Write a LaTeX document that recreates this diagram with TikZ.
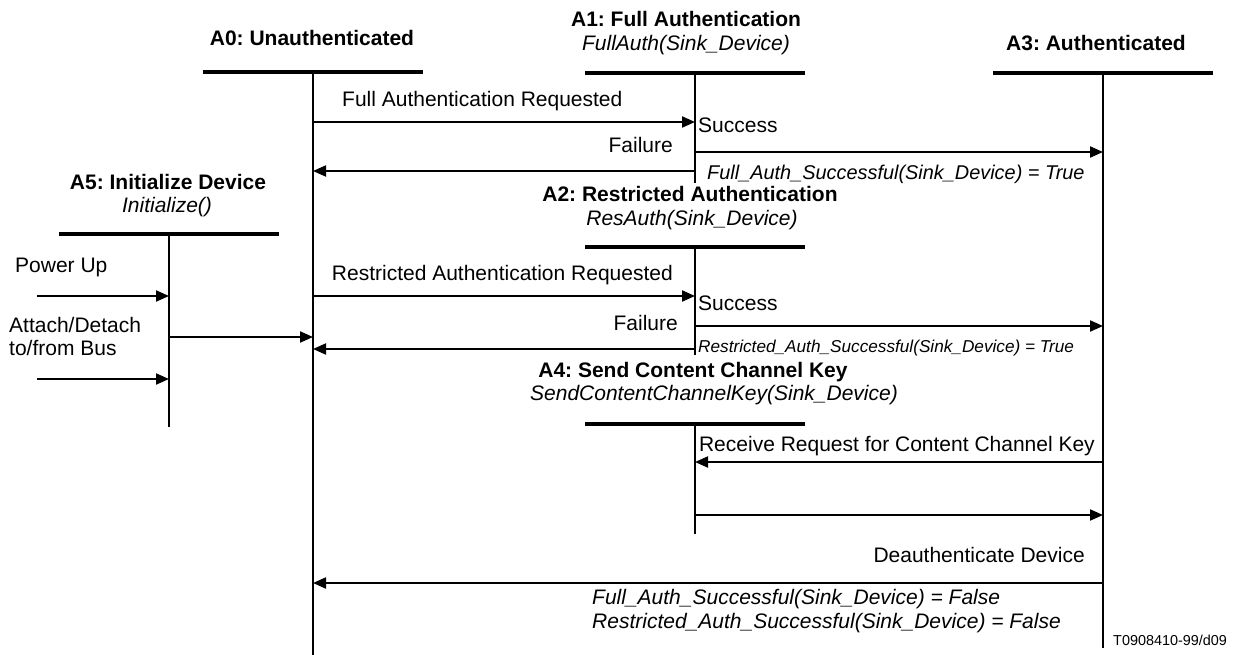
\documentclass[tikz,border=0pt]{standalone}
\usepackage{fontspec}
\setmainfont{Liberation Sans}
\usetikzlibrary{arrows.meta}
\frenchspacing
\tikzset{
  lbl/.style={inner sep=0pt, font=\fontsize{21}{25}\selectfont},
  ttl/.style={inner sep=0pt, anchor=base, font=\fontsize{21}{25}\selectfont\bfseries},
  fn/.style={inner sep=0pt, anchor=base, font=\fontsize{21}{25}\selectfont\itshape},
  cond/.style={inner sep=0pt, font=\fontsize{21}{25}\selectfont\itshape},
  condmid/.style={inner sep=0pt, font=\fontsize{19.9}{24}\selectfont\itshape},
  condsmall/.style={inner sep=0pt, font=\fontsize{17.2}{20}\selectfont\itshape},
  ref/.style={inner sep=0pt, font=\fontsize{14.4}{17}\selectfont},
  statebar/.style={line width=4pt},
  life/.style={line width=2pt},
  msg/.style={line width=2pt, -{Triangle[length=13pt,width=11pt]}},
}
\begin{document}
\begin{tikzpicture}[x=1pt,y=-1pt]
\useasboundingbox (0,0) rectangle (1244,655);

% state heads (top of each lifeline)
\coordinate (a0) at (313,72);
\coordinate (a1) at (695,73);
\coordinate (a3) at (1103,73);
\coordinate (a5) at (169,234);
\coordinate (a2) at (695,247);
\coordinate (a4) at (695,424);

% state titles
\node[ttl] (t0) at (312,46) {A0: Unauthenticated};
\node[ttl] (t1) at (686,26.5) {A1: Full Authentication};
\node[fn]  (f1) at (686,50.5) {FullAuth(Sink\_Device)};
\node[ttl] (t3) at (1096,50.5) {A3: Authenticated};
\node[ttl] (t5) at (168,189.5) {A5: Initialize Device};
\node[fn]  (f5) at (167,212.5) {Initialize()};
\node[ttl] (t2) at (690,201.5) {A2: Restricted Authentication};
\node[fn]  (f2) at (692,225.5) {ResAuth(Sink\_Device)};
\node[ttl] (t4) at (693,377.5) {A4: Send Content Channel Key};
\node[fn]  (f4) at (714,400.5) {SendContentChannelKey(Sink\_Device)};

% state bars
\foreach \s in {a0,a1,a2,a3,a4,a5}
  \draw[statebar] ([xshift=-110pt]\s) -- ([xshift=110pt]\s);

% lifelines
\draw[life] (a0) -- (a0 |- 0,655);
\draw[life] (a1) -- (a1 |- 0,183);
\draw[life] (a2) -- (a2 |- 0,355);
\draw[life] (a4) -- (a4 |- 0,534);
\draw[life] (a3) -- (a3 |- 0,648);
\draw[life] (a5) -- (a5 |- 0,427);

% A0 <-> A1
\draw[msg] (a0 |- 0,122) -- (a1 |- 0,122);
\node[lbl, anchor=base west] (l1) at (342,106.5) {Full Authentication Requested};
\node[lbl, anchor=base west] (s1) at (698,132.5) {Success};
\draw[msg] (a1 |- 0,152) -- (a3 |- 0,152);
\node[condmid, anchor=base west] (c1) at (707,179.5) {Full\_Auth\_Successful(Sink\_Device) = True};
\node[lbl, anchor=base east] (x1) at (673,152.5) {Failure};
\draw[msg] (a1 |- 0,171) -- (a0 |- 0,171);

% A5 inputs and output
\coordinate (pwr) at (37,296);
\coordinate (bus) at (37,379);
\node[lbl, anchor=base west] (lp) at (15,272.5) {Power Up};
\draw[msg] (pwr) -- (a5 |- pwr);
\node[lbl, anchor=base west] (lb1) at (9,332.5) {Attach/Detach};
\node[lbl, anchor=base west] (lb2) at (9,355.5) {to/from Bus};
\draw[msg] (a5 |- 0,337) -- (a0 |- 0,337);
\draw[msg] (bus) -- (a5 |- bus);

% A0 <-> A2
\draw[msg] (a0 |- 0,296) -- (a2 |- 0,296);
\node[lbl, anchor=base east] (l2) at (673,280.5) {Restricted Authentication Requested};
\node[lbl, anchor=base west] (s2) at (698,310.5) {Success};
\draw[msg] (a2 |- 0,326) -- (a3 |- 0,326);
\node[condsmall, anchor=base west] (c2) at (698,352) {Restricted\_Auth\_Successful(Sink\_Device) = True};
\node[lbl, anchor=base east] (x2) at (678,330.5) {Failure};
\draw[msg] (a2 |- 0,349) -- (a0 |- 0,349);

% A3 <-> A4
\node[lbl, anchor=base east] (rq) at (1095,451) {Receive Request for Content Channel Key};
\draw[msg] (a3 |- 0,462) -- (a4 |- 0,462);
\draw[msg] (a4 |- 0,515) -- (a3 |- 0,515);

% A3 -> A0
\node[lbl, anchor=base east] (da) at (1085,562.5) {Deauthenticate Device};
\draw[msg] (a3 |- 0,583) -- (a0 |- 0,583);
\node[cond, anchor=base west] (c3) at (592,604.5) {Full\_Auth\_Successful(Sink\_Device) = False};
\node[cond, anchor=base west] (c4) at (592,628.5) {Restricted\_Auth\_Successful(Sink\_Device) = False};

\node[ref, anchor=base west] (id) at (1113,645) {T0908410-99/d09};
\end{tikzpicture}
\end{document}
